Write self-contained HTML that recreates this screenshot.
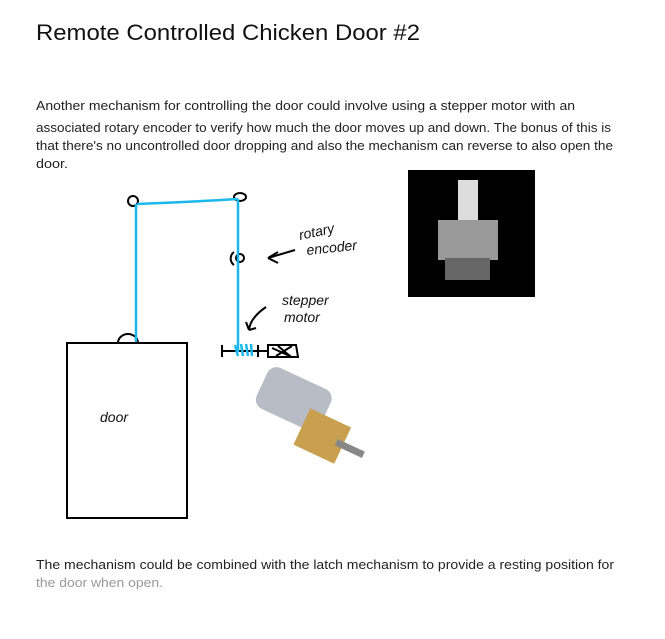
<!DOCTYPE html>
<html><head><meta charset="utf-8"><style>
body{margin:0;background:#fff;width:665px;height:639px;overflow:hidden;position:relative;font-family:"Liberation Sans",sans-serif}
</style></head><body>
<svg width="665" height="639" style="position:absolute;left:0;top:0">
<g font-family="Liberation Sans" fill="#222" font-size="13">
<text x="36" y="40" font-size="22" fill="#111" textLength="384" lengthAdjust="spacingAndGlyphs">Remote Controlled Chicken Door #2</text>
<text x="36" y="110" textLength="539" lengthAdjust="spacingAndGlyphs">Another mechanism for controlling the door could involve using a stepper motor with an</text>
<text x="36" y="132" textLength="575" lengthAdjust="spacingAndGlyphs">associated rotary encoder to verify how much the door moves up and down. The bonus of this is</text>
<text x="36" y="150" textLength="577" lengthAdjust="spacingAndGlyphs">that there's no uncontrolled door dropping and also the mechanism can reverse to also open the</text>
<text x="36" y="168" textLength="32" lengthAdjust="spacingAndGlyphs">door.</text>
<text x="36" y="569" textLength="578" lengthAdjust="spacingAndGlyphs">The mechanism could be combined with the latch mechanism to provide a resting position for</text>
<text x="36" y="587" fill="#999" textLength="127" lengthAdjust="spacingAndGlyphs">the door when open.</text>
</g>
<g fill="none" stroke="#000" stroke-width="2">
<rect x="67" y="343" width="120" height="175"/>
<path d="M118 343 A10 9 0 0 1 138 343"/>
<ellipse cx="133" cy="201" rx="5" ry="5"/>
<ellipse cx="240" cy="197" rx="6" ry="4"/>
<circle cx="240" cy="258" r="4"/><path d="M234 252 A8 8 0 0 0 234 265"/>
<path d="M268 258 L295 250 M268 258 L278 252 M268 258 L278 263"/>
<path d="M222 345 V357 M222 351 H258 M258 345 V357 M258 351 H268 M268 345 V357 L298 357 L296 345 Z M272 348 L292 357 M278 346 L290 356 M276 356 L292 346"/>
<path d="M249 330 Q250 318 266 307 M249 330 L246 322 M249 330 L256 328"/>
</g>
<g fill="none" stroke="#1bb8ea" stroke-width="2.5">
<path d="M136 204 V342 M137 204 Q190 202 238 199 M238 199 V352"/>
<path d="M235 345 L238 356 M241 344 L243 356 M246 344 L248 356 M251 344 L252 356"/>
</g>
<g font-family="Liberation Sans" font-style="italic" font-size="14" fill="#111">
<text x="300" y="240" transform="rotate(-12 300 240)">rotary</text>
<text x="307" y="255" transform="rotate(-6 307 255)">encoder</text>
<text x="282" y="305">stepper</text>
<text x="284" y="322">motor</text>
<text x="100" y="422">door</text>
</g>
<rect x="408" y="170" width="127" height="127" fill="#000"/>
<rect x="458" y="180" width="20" height="45" fill="#ddd"/>
<rect x="438" y="220" width="60" height="40" fill="#999"/>
<rect x="445" y="258" width="45" height="22" fill="#666"/>
<g>
<rect x="258" y="375" width="70" height="45" rx="10" fill="#b8bcc4" transform="rotate(25 290 400)"/>
<rect x="300" y="415" width="45" height="40" fill="#c9a050" transform="rotate(25 320 435)"/>
<rect x="335" y="445" width="30" height="7" fill="#888" transform="rotate(25 350 448)"/>
</g>
</svg>
</body></html>
